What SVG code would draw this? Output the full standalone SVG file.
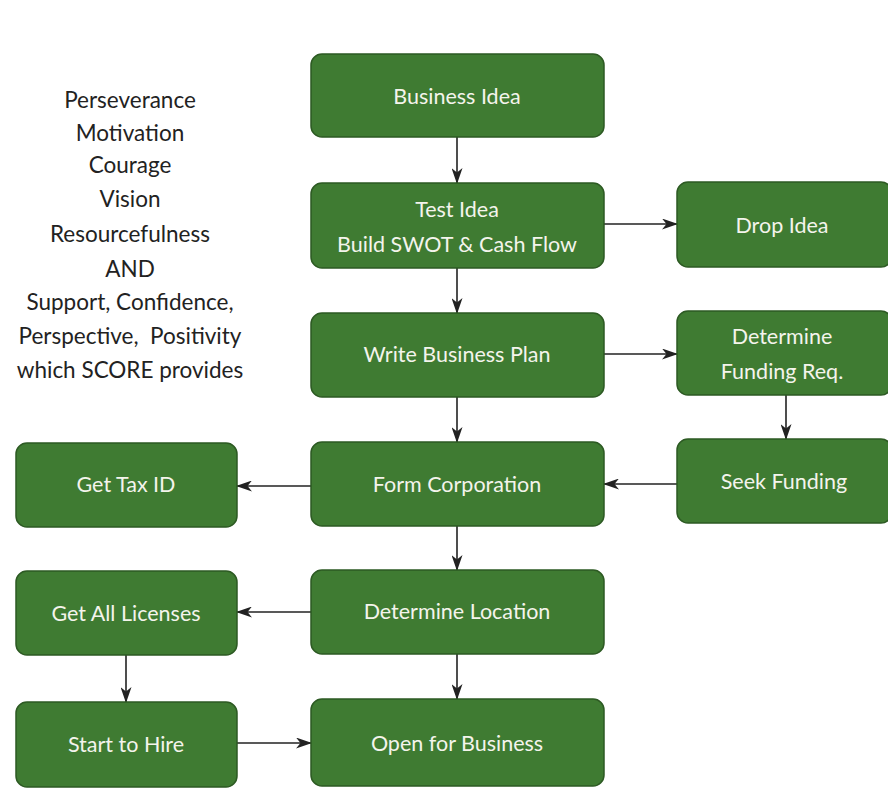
<svg xmlns="http://www.w3.org/2000/svg" width="888" height="793" viewBox="0 0 888 793">
<style>
.box{fill:#3f7b32;stroke:#2d5a23;stroke-width:1.5}
.t{font-family:Lato,"Open Sans",sans-serif;font-size:21.5px;fill:#f4f4ec;text-anchor:middle}
.side{font-family:Lato,"Open Sans",sans-serif;font-size:22.5px;fill:#222;text-anchor:middle}
.c{stroke:#222;stroke-width:1.6;fill:none;marker-end:url(#ah)}
</style>
<defs>
<marker id="ah" viewBox="0 0 16 11" refX="15" refY="5.5" markerWidth="16" markerHeight="11" markerUnits="userSpaceOnUse" orient="auto">
<path d="M0,0 L16,5.5 L0,11 L4.5,5.5 Z" fill="#222"/>
</marker>
</defs>
<rect width="888" height="793" fill="#fff"/>
<g id="side-text">
<text class="side" x="130" y="108">Perseverance</text>
<text class="side" x="130" y="141">Motivation</text>
<text class="side" x="130" y="173">Courage</text>
<text class="side" x="130" y="207">Vision</text>
<text class="side" x="130" y="242">Resourcefulness</text>
<text class="side" x="130" y="277">AND</text>
<text class="side" x="130" y="310">Support, Confidence,</text>
<text class="side" x="130" y="344" xml:space="preserve">Perspective,  Positivity</text>
<text class="side" x="130" y="378">which SCORE provides</text>
</g>
<g id="connectors">
<line class="c" x1="457" y1="137" x2="457" y2="183"/>
<line class="c" x1="457" y1="268" x2="457" y2="313"/>
<line class="c" x1="457" y1="397" x2="457" y2="442"/>
<line class="c" x1="457" y1="526" x2="457" y2="570"/>
<line class="c" x1="457" y1="654" x2="457" y2="699"/>
<line class="c" x1="604" y1="224" x2="677" y2="224"/>
<line class="c" x1="604" y1="354" x2="677" y2="354"/>
<line class="c" x1="786" y1="395" x2="786" y2="439"/>
<line class="c" x1="677" y1="484" x2="604" y2="484"/>
<line class="c" x1="311" y1="486" x2="237" y2="486"/>
<line class="c" x1="311" y1="612" x2="237" y2="612"/>
<line class="c" x1="126" y1="655" x2="126" y2="702"/>
<line class="c" x1="237" y1="743" x2="311" y2="743"/>
</g>
<g id="business-idea"><rect class="box" x="311" y="54" width="293" height="83" rx="11"/><text class="t" x="457" y="104">Business Idea</text></g>
<g id="test-idea"><rect class="box" x="311" y="183" width="293" height="85" rx="11"/><text class="t" x="457" y="217">Test Idea</text><text class="t" x="457" y="252">Build SWOT &amp; Cash Flow</text></g>
<g id="drop-idea"><rect class="box" x="677" y="182" width="215" height="85" rx="11"/><text class="t" x="782" y="233">Drop Idea</text></g>
<g id="write-plan"><rect class="box" x="311" y="313" width="293" height="84" rx="11"/><text class="t" x="457" y="362">Write Business Plan</text></g>
<g id="determine-funding"><rect class="box" x="677" y="311" width="215" height="84" rx="11"/><text class="t" x="782" y="344">Determine</text><text class="t" x="782" y="379">Funding Req.</text></g>
<g id="seek-funding"><rect class="box" x="677" y="439" width="215" height="84" rx="11"/><text class="t" x="784" y="489">Seek Funding</text></g>
<g id="form-corporation"><rect class="box" x="311" y="442" width="293" height="84" rx="11"/><text class="t" x="457" y="492">Form Corporation</text></g>
<g id="get-tax-id"><rect class="box" x="16" y="443" width="221" height="84" rx="11"/><text class="t" x="126" y="492">Get Tax ID</text></g>
<g id="determine-location"><rect class="box" x="311" y="570" width="293" height="84" rx="11"/><text class="t" x="457" y="619">Determine Location</text></g>
<g id="get-licenses"><rect class="box" x="16" y="571" width="221" height="84" rx="11"/><text class="t" x="126" y="621">Get All Licenses</text></g>
<g id="start-hire"><rect class="box" x="16" y="702" width="221" height="85" rx="11"/><text class="t" x="126" y="752">Start to Hire</text></g>
<g id="open-business"><rect class="box" x="311" y="699" width="293" height="87" rx="11"/><text class="t" x="457" y="751">Open for Business</text></g>
</svg>
